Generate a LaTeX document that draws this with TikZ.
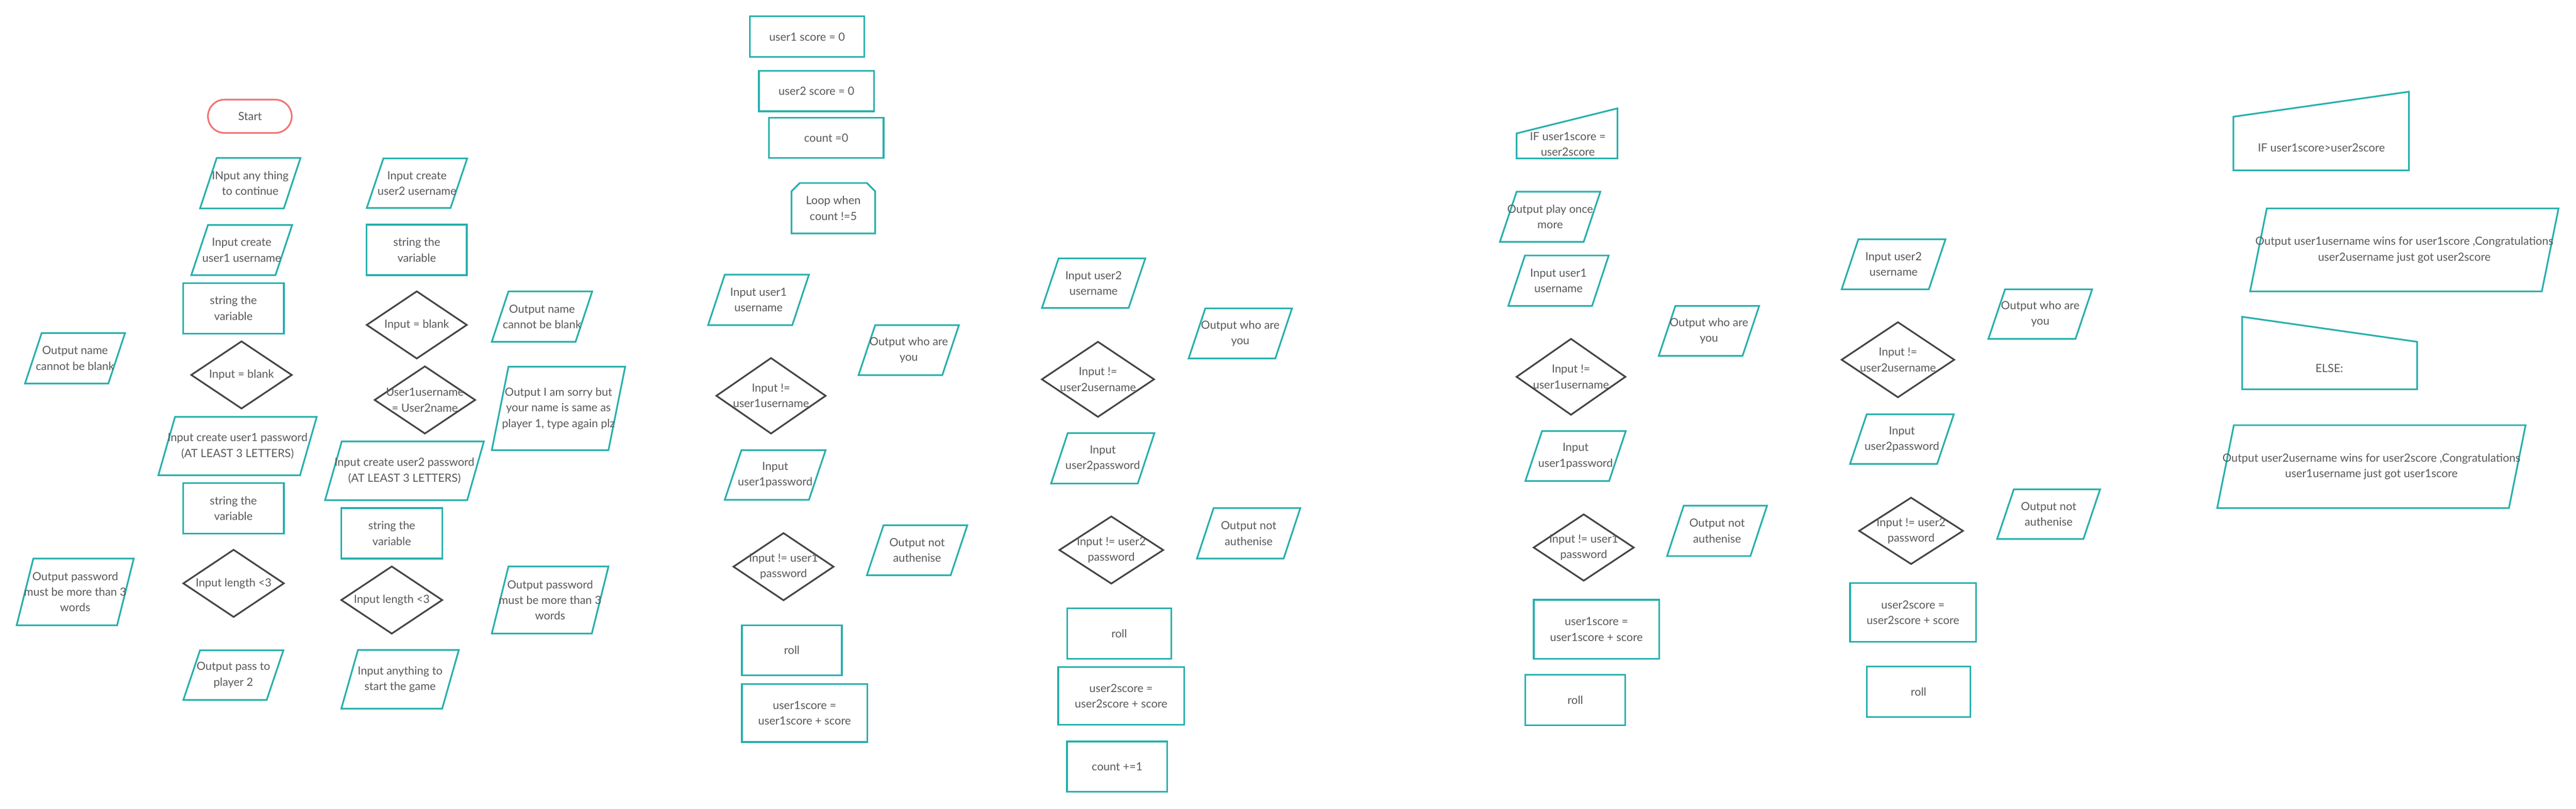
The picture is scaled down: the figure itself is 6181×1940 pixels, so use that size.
\documentclass[tikz,border=0pt]{standalone}
\usepackage{fontspec}
\setmainfont{Lato}
\definecolor{tealc}{HTML}{26B0AC}
\definecolor{txtc}{HTML}{595959}
\definecolor{diac}{HTML}{444444}
\definecolor{startc}{HTML}{F27474}
\tikzset{
  tealline/.style={draw=tealc, line width=4pt, line join=miter},
  dialine/.style={draw=diac, line width=4pt, line join=miter},
  startline/.style={draw=startc, line width=4pt},
  lbl/.style={font=\fontsize{27}{37.5}\selectfont, text=txtc, align=center, inner sep=0pt},
}
% parallelogram: name, x bottom-left, x bottom-right, y top, y bottom, text
\newcommand{\pgram}[6]{%
  \draw[tealline] (#2+40,#4) -- (#3+40,#4) -- (#3,#5) -- (#2,#5) -- cycle;
  \node[lbl] (#1) at ({(#2+#3)/2+20},{(#4+#5)/2}) {#6};}
% rectangle: name, x1, x2, y1, y2, text
\newcommand{\rbox}[6]{%
  \draw[tealline] (#2,#4) rectangle (#3,#5);
  \node[lbl] (#1) at ({(#2+#3)/2},{(#4+#5)/2}) {#6};}
% diamond: name, x1, x2, y1, y2, text
\newcommand{\dmd}[6]{%
  \draw[dialine] ({(#2+#3)/2},#4) -- (#3,{(#4+#5)/2}) -- ({(#2+#3)/2},#5) -- (#2,{(#4+#5)/2}) -- cycle;
  \node[lbl] (#1) at ({(#2+#3)/2},{(#4+#5)/2}) {#6};}
\begin{document}
\begin{tikzpicture}[x=1pt,y=-1pt]
\fill[white] (0,0) rectangle (6181,1940);
\useasboundingbox (0,0) rectangle (6181,1940);

% ---------- column 1 ----------
\draw[startline, rounded corners=40pt] (499,239) rectangle (700,319);
\node[lbl] (start) at (600,279) {Start};
\pgram{in1}{480}{681}{379}{500}{INput any thing\\to continue}
\pgram{u1name}{459}{661}{540}{660}{Input create\\user1 username}
\rbox{str1}{439}{681}{679}{800}{string the\\variable}
\dmd{blank1}{459}{700}{819}{980}{Input = blank}
\pgram{outblank1}{60}{260}{799}{920}{Output name\\cannot be blank}
\pgram{u1pass}{380}{720}{1000}{1140}{Input create user1 password\\(AT LEAST 3 LETTERS)}
\rbox{str2}{439}{681}{1159}{1280}{string the\\variable}
\dmd{len1}{440}{681}{1319}{1480}{Input length <3}
\pgram{outpw1}{40}{281}{1340}{1500}{Output password\\must be more than 3\\words}
\pgram{pass2}{440}{640}{1560}{1679}{Output pass to\\player 2}

% ---------- column 2 ----------
\pgram{u2name}{880}{1081}{380}{499}{Input create\\user2 username}
\rbox{str3}{880}{1120}{539}{660}{string the\\variable}
\dmd{blank2}{880}{1120}{699}{860}{Input = blank}
\pgram{outblank2}{1180}{1381}{699}{820}{Output name\\cannot be blank}
\dmd{same}{899}{1140}{879}{1040}{User1username\\= User2name}
\pgram{sorry}{1180}{1460}{880}{1080}{Output I am sorry but\\your name is same as\\player 1, type again plz}
\pgram{u2pass}{780}{1121}{1059}{1200}{Input create user2 password\\(AT LEAST 3 LETTERS)}
\rbox{str4}{819}{1061}{1219}{1340}{string the\\variable}
\dmd{len2}{819}{1061}{1359}{1520}{Input length <3}
\pgram{outpw2}{1180}{1420}{1359}{1520}{Output password\\must be more than 3\\words}
\pgram{startgame}{819}{1061}{1559}{1700}{Input anything to\\start the game}

% ---------- column 3 ----------
\rbox{s1}{1799}{2074}{39}{137}{user1 score = 0}
\rbox{s2}{1821}{2097}{170}{267}{user2 score = 0}
\rbox{cnt}{1845}{2120}{282}{379}{count =0}
\draw[tealline] (1899,560) -- (1899,459) -- (1919,439) -- (2080,439) -- (2100,459) -- (2100,560) -- cycle;
\node[lbl] (loop) at (1999.5,499.5) {Loop when\\count !=5};
\pgram{a1name}{1699}{1901}{659}{780}{Input user1\\username}
\pgram{a1who}{2060}{2261}{780}{900}{Output who are\\you}
\dmd{a1chk}{1719}{1981}{859}{1040}{Input !=\\user1username}
\pgram{a1pass}{1739}{1941}{1080}{1199}{Input\\user1password}
\dmd{a1pchk}{1760}{2000}{1279}{1440}{Input != user1\\password}
\pgram{a1not}{2080}{2281}{1260}{1380}{Output not\\authenise}
\rbox{a1roll}{1780}{2020}{1500}{1620}{roll}
\rbox{a1add}{1780}{2081}{1641}{1780}{user1score =\\user1score + score}

% ---------- column 3b ----------
\pgram{a2name}{2500}{2708}{620}{739}{Input user2\\username}
\pgram{a2who}{2852}{3060}{740}{860}{Output who are\\you}
\dmd{a2chk}{2500}{2769}{820}{1000}{Input !=\\user2username}
\pgram{a2pass}{2522}{2730}{1039}{1160}{Input\\user2password}
\dmd{a2pchk}{2542}{2791}{1239}{1400}{Input != user2\\password}
\pgram{a2not}{2872}{3080}{1219}{1340}{Output not\\authenise}
\rbox{a2roll}{2561}{2810}{1459}{1580}{roll}
\rbox{a2add}{2539}{2841}{1600}{1739}{user2score =\\user2score + score}
\rbox{incr}{2560}{2801}{1779}{1899}{count +=1}

% ---------- column 4 ----------
\draw[tealline] (3639,320) -- (3881,260) -- (3881,380) -- (3639,380) -- cycle;
\node[lbl] (ifeq) at (3762,346) {IF user1score =\\user2score};
\pgram{once}{3599}{3800}{460}{580}{Output play once\\more}
\pgram{b1name}{3619}{3820}{613}{734}{Input user1\\username}
\pgram{b1who}{3980}{4181}{734}{854}{Output who are\\you}
\dmd{b1chk}{3639}{3900}{813}{995}{Input !=\\user1username}
\pgram{b1pass}{3660}{3861}{1034}{1154}{Input\\user1password}
\dmd{b1pchk}{3680}{3920}{1234}{1393}{Input != user1\\password}
\pgram{b1not}{4000}{4200}{1213}{1334}{Output not\\authenise}
\rbox{b1add}{3680}{3981}{1439}{1580}{user1score =\\user1score + score}
\rbox{b1roll}{3660}{3900}{1619}{1740}{roll}

% ---------- column 5 ----------
\pgram{b2name}{4419}{4628}{574}{694}{Input user2\\username}
\pgram{b2who}{4771}{4980}{694}{813}{Output who are\\you}
\dmd{b2chk}{4419}{4689}{773}{953}{Input !=\\user2username}
\pgram{b2pass}{4439}{4648}{994}{1113}{Input\\user2password}
\dmd{b2pchk}{4461}{4710}{1194}{1353}{Input != user2\\password}
\pgram{b2not}{4792}{4999}{1174}{1293}{Output not\\authenise}
\rbox{b2add}{4439}{4741}{1399}{1540}{user2score =\\user2score + score}
\rbox{b2roll}{4479}{4728}{1599}{1720}{roll}

% ---------- column 6 ----------
\draw[tealline] (5359,280) -- (5780,220) -- (5780,409) -- (5359,409) -- cycle;
\node[lbl] (ifgt) at (5570,354) {IF user1score>user2score};
\pgram{win1}{5399}{6099}{500}{699}{Output user1username wins for user1score ,Congratulations\\user2username just got user2score}
\draw[tealline] (5380,760) -- (5800,820) -- (5800,934) -- (5380,934) -- cycle;
\node[lbl] (else) at (5589,884) {ELSE:};
\pgram{win2}{5320}{6020}{1020}{1219}{Output user2username wins for user2score ,Congratulations\\user1username just got user1score}
\end{tikzpicture}
\end{document}
